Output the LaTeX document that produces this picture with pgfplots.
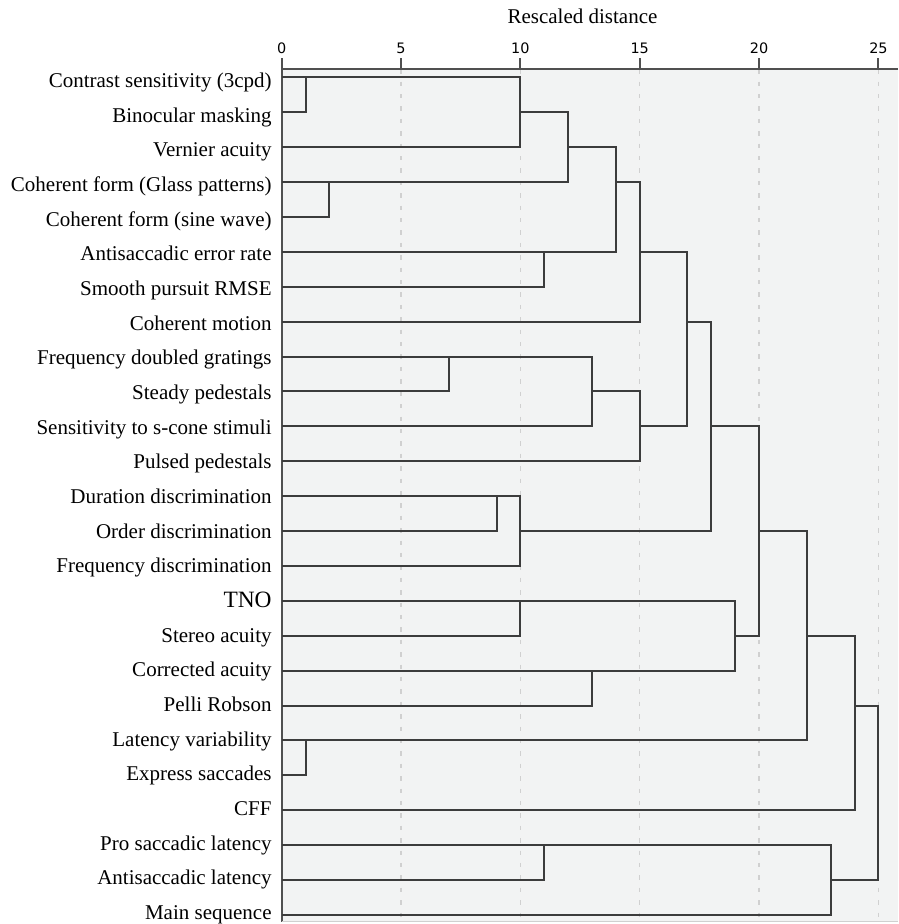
\documentclass[border=0pt]{standalone}
\usepackage{fontspec}
\setmainfont{Liberation Serif}
\newfontfamily\tickfont{DejaVu Sans}
\usepackage{pgfplots}
\pgfplotsset{compat=1.18}
\definecolor{bg}{HTML}{F2F3F3}
\definecolor{link}{HTML}{3C3C3C}
\definecolor{gridc}{HTML}{D0D0D0}
\definecolor{axc}{HTML}{505050}
\pgfplotsset{merge/.style={link, line width=1pt, line join=miter, mark=none}}
\begin{document}
\begin{tikzpicture}
\useasboundingbox (-140.85pt,-1.25pt) rectangle (308.15pt,460.75pt);
\begin{axis}[
    at={(0,0)}, anchor=south west,
    scale only axis,
    width=308.15pt, height=426.1pt,
    xmin=0, xmax=25.82,
    ymin=0.768, ymax=25.19,
    y dir=reverse,
    axis x line*=top,
    axis y line*=left,
    axis line style={axc, line width=1pt, -},
    axis background/.style={fill=bg},
    xtick={0,5,...,25},
    xtick align=outside,
    ytick align=inside,
    major tick length=5.5pt,
    x tick style={axc, line width=1pt},
    y tick style={draw=none},
    xmajorgrids,
    major grid style={gridc, line width=0.7pt, dash pattern=on 2.2pt off 4pt},
    /pgf/number format/assume math mode=true,
    xticklabel style={font=\tickfont\fontsize{7.2}{8}\selectfont, inner sep=0pt, yshift=2.2pt},
    % labels sit a little closer together than the rows
    ytick={1,1.9934,...,24.85},
    yticklabels={
        Contrast sensitivity (3cpd),
        Binocular masking,
        Vernier acuity,
        Coherent form (Glass patterns),
        Coherent form (sine wave),
        Antisaccadic error rate,
        Smooth pursuit RMSE,
        Coherent motion,
        Frequency doubled gratings,
        Steady pedestals,
        Sensitivity to s-cone stimuli,
        Pulsed pedestals,
        Duration discrimination,
        Order discrimination,
        Frequency discrimination,
        {\fontsize{11.7}{13}\selectfont TNO},
        Stereo acuity,
        Corrected acuity,
        Pelli Robson,
        Latency variability,
        Express saccades,
        CFF,
        Pro saccadic latency,
        Antisaccadic latency,
        Main sequence},
    yticklabel style={font=\fontsize{10.5}{12}\selectfont, inner sep=0pt,
        text height=7pt, text depth=2.2pt, xshift=-4.85pt, yshift=-2.6pt},
    clip=false,
]
% each merge: child a -> merge height -> child b
\addplot[merge] coordinates {(0,1) (1,1) (1,2) (0,2)};
\addplot[merge] coordinates {(1,1) (10,1) (10,3) (0,3)};
\addplot[merge] coordinates {(0,4) (2,4) (2,5) (0,5)};
\addplot[merge] coordinates {(10,2) (12,2) (12,4) (2,4)};
\addplot[merge] coordinates {(0,6) (11,6) (11,7) (0,7)};
\addplot[merge] coordinates {(12,3) (14,3) (14,6) (11,6)};
\addplot[merge] coordinates {(14,4) (15,4) (15,8) (0,8)};
\addplot[merge] coordinates {(0,9) (7,9) (7,10) (0,10)};
\addplot[merge] coordinates {(7,9) (13,9) (13,11) (0,11)};
\addplot[merge] coordinates {(13,10) (15,10) (15,12) (0,12)};
\addplot[merge] coordinates {(15,6) (17,6) (17,11) (15,11)};
\addplot[merge] coordinates {(0,13) (9,13) (9,14) (0,14)};
\addplot[merge] coordinates {(9,13) (10,13) (10,15) (0,15)};
\addplot[merge] coordinates {(17,8) (18,8) (18,14) (10,14)};
\addplot[merge] coordinates {(0,16) (10,16) (10,17) (0,17)};
\addplot[merge] coordinates {(0,18) (13,18) (13,19) (0,19)};
\addplot[merge] coordinates {(10,16) (19,16) (19,18) (13,18)};
\addplot[merge] coordinates {(18,11) (20,11) (20,17) (19,17)};
\addplot[merge] coordinates {(0,20) (1,20) (1,21) (0,21)};
\addplot[merge] coordinates {(20,14) (22,14) (22,20) (1,20)};
\addplot[merge] coordinates {(22,17) (24,17) (24,22) (0,22)};
\addplot[merge] coordinates {(0,23) (11,23) (11,24) (0,24)};
\addplot[merge] coordinates {(11,23) (23,23) (23,25) (0,25)};
\addplot[merge] coordinates {(24,19) (25,19) (25,24) (23,24)};
\draw[gridc, line width=0.6pt] (axis cs:0,25.19) -- (axis cs:25.82,25.19);
\node[font=\fontsize{10.5}{12}\selectfont, anchor=base, yshift=22.8pt]
    at (axis cs:12.6,0.768) {Rescaled distance};
\end{axis}
\end{tikzpicture}
\end{document}
